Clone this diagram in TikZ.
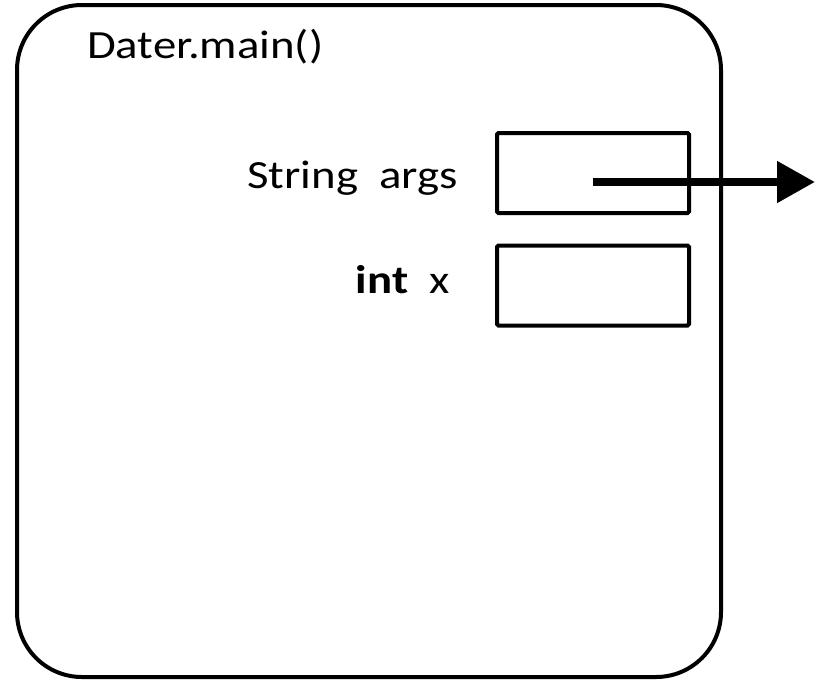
\documentclass[tikz,border=0pt]{standalone}
\usepackage{fontspec}
\setmainfont{Carlito}
\newfontfamily\calfont[FakeStretch=1.17]{Carlito}
\usetikzlibrary{arrows.meta}
\tikzset{
  frame/.style={draw=black, line width=4pt, rounded corners=65pt},
  slot/.style={draw=black, line width=4pt, rounded corners=1.5pt, minimum width=192pt, minimum height=80pt, inner sep=0pt},
  lbl/.style={inner sep=0pt, font=\calfont\fontsize{40}{48}\selectfont},
  refarrow/.style={line width=8pt, -{Triangle[length=38pt,width=40pt]}}
}
\begin{document}
\begin{tikzpicture}[x=1pt,y=-1pt]
\useasboundingbox (0,0) rectangle (821,683);
\draw[frame] (17,5) rectangle (721,677);
\node[lbl, anchor=base west] (title) at (87,58) {Dater.main()};
\node[slot] (argsbox) at (593,173) {};
\node[slot] (xbox) at (593,285.5) {};
\node[lbl, anchor=base east] (argslbl) at (458,188) {String\ \ args};
\node[lbl, anchor=base east] (xlbl) at (450,293) {\textbf{int}\ \ x};
\coordinate (argsref) at (593,182);
\coordinate (heap) at (815,182);
\draw[refarrow] (argsref) -- (heap);
\end{tikzpicture}
\end{document}
